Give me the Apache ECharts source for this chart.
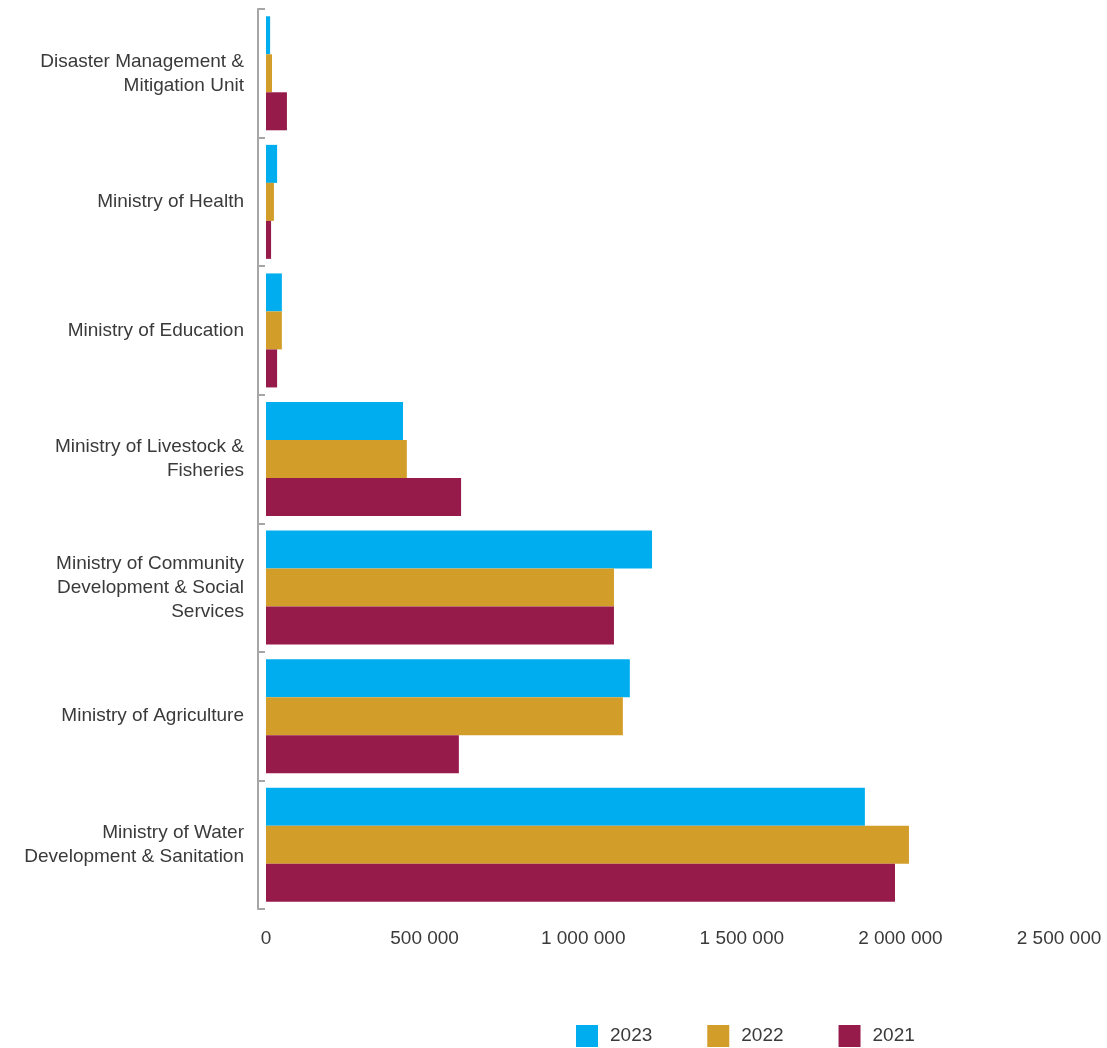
<!DOCTYPE html>
<html><head><meta charset="utf-8">
<script src="https://cdn.jsdelivr.net/npm/echarts@6/dist/echarts.min.js"></script>
<style>html,body{margin:0;padding:0;background:#fff}#c{width:1107px;height:1048px}</style>
</head><body><div id="c"></div>
<script>
// categories bottom to top
const categories = [
  "Ministry of Water\nDevelopment & Sanitation",
  "Ministry of Agriculture",
  "Ministry of Community\nDevelopment & Social\nServices",
  "Ministry of Livestock &\nFisheries",
  "Ministry of Education",
  "Ministry of Health",
  "Disaster Management &\nMitigation Unit"
];
const values2023 = [1888000, 1147000, 1217000, 432000, 50000, 35000, 13000];
const values2022 = [2027000, 1125000, 1097000, 444000, 50000, 25000, 19000];
const values2021 = [1983000, 608000, 1097000, 615000, 35000, 16000, 66000];
const xTicks = { min: 0, max: 2500000, interval: 500000 };

const chart = echarts.init(document.getElementById('c'), null, {renderer: 'canvas'});
const font = '"Liberation Sans", Arial, sans-serif';
chart.setOption({
  animation: false,
  grid: { left: 266, right: 48, top: 9, bottom: 139 },
  legend: {
    data: ['2023', '2022', '2021'],
    left: 576, top: 1025, padding: 0,
    itemWidth: 22, itemHeight: 22, itemGap: 55,
    icon: 'rect',
    textStyle: { fontFamily: font, fontSize: 19, color: '#3a3a3a', padding: [0, 0, 0, 7] }
  },
  xAxis: {
    type: 'value', min: xTicks.min, max: xTicks.max, interval: xTicks.interval,
    axisLine: { show: false }, axisTick: { show: false }, splitLine: { show: false },
    axisLabel: {
      margin: 20, fontFamily: font, fontSize: 19, color: '#3a3a3a',
      formatter: v => String(v).replace(/\B(?=(\d{3})+(?!\d))/g, ' ')
    }
  },
  yAxis: {
    type: 'category', data: categories, offset: 8,
    axisLine: { show: true, onZero: false, lineStyle: { color: '#a6a6a6', width: 2 } },
    axisTick: { show: true, inside: true, length: 7, lineStyle: { color: '#a6a6a6', width: 2 } },
    axisLabel: { margin: 14, fontFamily: font, fontSize: 19, color: '#3a3a3a', lineHeight: 24, align: 'right' }
  },
  series: [
    { name: '2023', type: 'bar', data: values2023, barWidth: 38, barGap: '0%', itemStyle: { color: '#00ADEE' } },
    { name: '2022', type: 'bar', data: values2022, barWidth: 38, barGap: '0%', itemStyle: { color: '#D29E29' } },
    { name: '2021', type: 'bar', data: values2021, barWidth: 38, barGap: '0%', itemStyle: { color: '#971B4A' } }
  ]
});
</script></body></html>
